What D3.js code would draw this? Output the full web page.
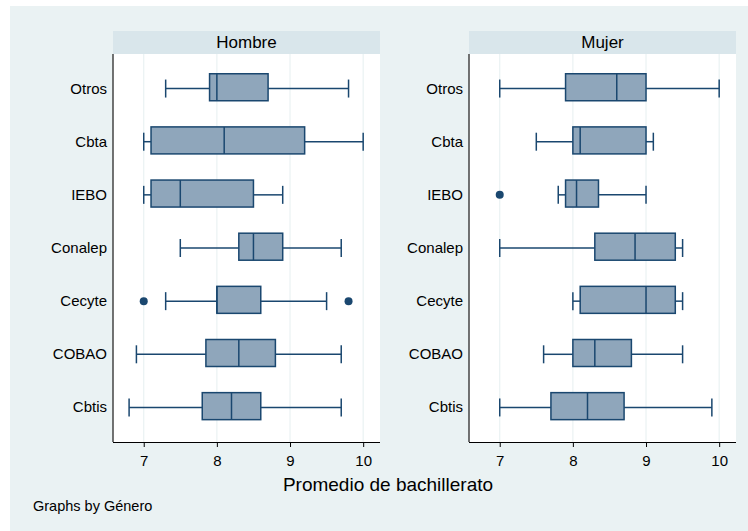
<!DOCTYPE html>
<html lang="es">
<head>
<meta charset="UTF-8">
<title>Promedio de bachillerato por género</title>
<script src="https://cdn.jsdelivr.net/npm/d3@7"></script>
<style>
  body { margin: 0; background: #fff; }
  text { font-family: "Liberation Sans", Arial, sans-serif; fill: #000; }
</style>
</head>
<body>
<svg id="chart" width="748" height="531"></svg>
<script>
// categories (top to bottom) and panels
const schools = ["Otros", "Cbta", "IEBO", "Conalep", "Cecyte", "COBAO", "Cbtis"];
const panels = ["Hombre", "Mujer"];
const xTicks = [7, 8, 9, 10];

// box stats per school: [lower whisker, q1, median, q3, upper whisker]
const hombreStats = [
  [7.3, 7.9, 8.0, 8.7, 9.8],
  [7.0, 7.1, 8.1, 9.2, 10.0],
  [7.0, 7.1, 7.5, 8.5, 8.9],
  [7.5, 8.3, 8.5, 8.9, 9.7],
  [7.3, 8.0, 8.0, 8.6, 9.5],
  [6.9, 7.85, 8.3, 8.8, 9.7],
  [6.8, 7.8, 8.2, 8.6, 9.7]
];
const mujerStats = [
  [7.0, 7.9, 8.6, 9.0, 10.0],
  [7.5, 8.0, 8.1, 9.0, 9.1],
  [7.8, 7.9, 8.05, 8.35, 9.0],
  [7.0, 8.3, 8.85, 9.4, 9.5],
  [8.0, 8.1, 9.0, 9.4, 9.5],
  [7.6, 8.0, 8.3, 8.8, 9.5],
  [7.0, 7.7, 8.2, 8.7, 9.9]
];
// outside values: [school, value]
const hombreOutliers = [["Cecyte", 7.0], ["Cecyte", 9.8]];
const mujerOutliers = [["IEBO", 7.0]];

const navy = "#1a476f";
const boxFill = "#8fa6bb";

const svg = d3.select("#chart");

// outer background
svg.append("rect")
  .attr("x", 10).attr("y", 6).attr("width", 738).attr("height", 525)
  .attr("fill", "#eaf2f3");

const plotTop = 54, plotBottom = 442;
const panelX = [[113, 380], [469, 736]];
const allStats = [hombreStats, mujerStats];
const allOutliers = [hombreOutliers, mujerOutliers];

const y = d3.scalePoint()
  .domain(schools)
  .range([plotTop, plotBottom])
  .padding(0.65);

panels.forEach((name, p) => {
  const [x0, x1] = panelX[p];
  const x = d3.scaleLinear().domain([6.58, 10.23]).range([x0, x1]);
  const g = svg.append("g");

  // strip
  g.append("rect")
    .attr("x", x0).attr("y", 31).attr("width", x1 - x0).attr("height", 23)
    .attr("fill", "#d9e6eb");
  g.append("text")
    .attr("x", (x0 + x1) / 2).attr("y", 48)
    .attr("text-anchor", "middle")
    .style("font-size", "17px")
    .text(name);

  // plot region
  g.append("rect")
    .attr("x", x0).attr("y", plotTop).attr("width", x1 - x0).attr("height", plotBottom - plotTop)
    .attr("fill", "#fff");

  // grid
  g.selectAll(".grid")
    .data(xTicks)
    .join("line")
    .attr("x1", d => x(d)).attr("x2", d => x(d))
    .attr("y1", plotTop).attr("y2", plotBottom)
    .attr("stroke", "#eaf2f3")
    .attr("stroke-width", 1.2);

  const stats = allStats[p];
  const half = 13.5, cap = 9;

  const rows = g.selectAll(".row")
    .data(schools.map((s, i) => ({ s, v: stats[i] })))
    .join("g")
    .attr("transform", d => `translate(0,${y(d.s)})`);

  // whiskers
  rows.append("line")
    .attr("x1", d => x(d.v[0])).attr("x2", d => x(d.v[1]))
    .attr("stroke", navy).attr("stroke-width", 1.5);
  rows.append("line")
    .attr("x1", d => x(d.v[3])).attr("x2", d => x(d.v[4]))
    .attr("stroke", navy).attr("stroke-width", 1.5);
  rows.append("line")
    .attr("x1", d => x(d.v[0])).attr("x2", d => x(d.v[0]))
    .attr("y1", -cap).attr("y2", cap)
    .attr("stroke", navy).attr("stroke-width", 1.5);
  rows.append("line")
    .attr("x1", d => x(d.v[4])).attr("x2", d => x(d.v[4]))
    .attr("y1", -cap).attr("y2", cap)
    .attr("stroke", navy).attr("stroke-width", 1.5);

  // box
  rows.append("rect")
    .attr("x", d => x(d.v[1]))
    .attr("width", d => x(d.v[3]) - x(d.v[1]))
    .attr("y", -half - 1.3).attr("height", 2 * half)
    .attr("fill", boxFill)
    .attr("stroke", navy).attr("stroke-width", 1.5);
  rows.append("line")
    .attr("x1", d => x(d.v[2])).attr("x2", d => x(d.v[2]))
    .attr("y1", -half - 1.3).attr("y2", half - 1.3)
    .attr("stroke", navy).attr("stroke-width", 1.5);

  // outside values
  g.selectAll(".out")
    .data(allOutliers[p])
    .join("circle")
    .attr("cx", d => x(d[1])).attr("cy", d => y(d[0]))
    .attr("r", 4)
    .attr("fill", navy);

  // y axis
  g.append("line")
    .attr("x1", x0).attr("x2", x0).attr("y1", plotTop).attr("y2", plotBottom)
    .attr("stroke", "#444").attr("stroke-width", 1.5);
  g.selectAll(".ylab")
    .data(schools)
    .join("text")
    .attr("x", x0 - 6).attr("y", d => y(d) + 5)
    .attr("text-anchor", "end")
    .style("font-size", "15px")
    .text(d => d);

  // x axis
  const xAxis = g.append("g")
    .attr("transform", `translate(0,${plotBottom})`)
    .call(d3.axisBottom(x).tickValues(xTicks).tickSize(5).tickPadding(8).tickFormat(d3.format("d")));
  xAxis.select(".domain").attr("stroke", "#000").attr("stroke-width", 1.2)
    .attr("d", `M${x0},0.5H${x1}`);
  xAxis.selectAll(".tick line").attr("stroke", "#000");
  xAxis.selectAll(".tick text")
    .style("font-size", "15px")
    .style("font-family", "'Liberation Sans', Arial, sans-serif")
    .attr("fill", "#000");
});

svg.append("text")
  .attr("x", 388).attr("y", 491)
  .attr("text-anchor", "middle")
  .style("font-size", "19px")
  .text("Promedio de bachillerato");

svg.append("text")
  .attr("x", 33).attr("y", 511)
  .style("font-size", "14.5px")
  .text("Graphs by Género");
</script>
</body>
</html>
